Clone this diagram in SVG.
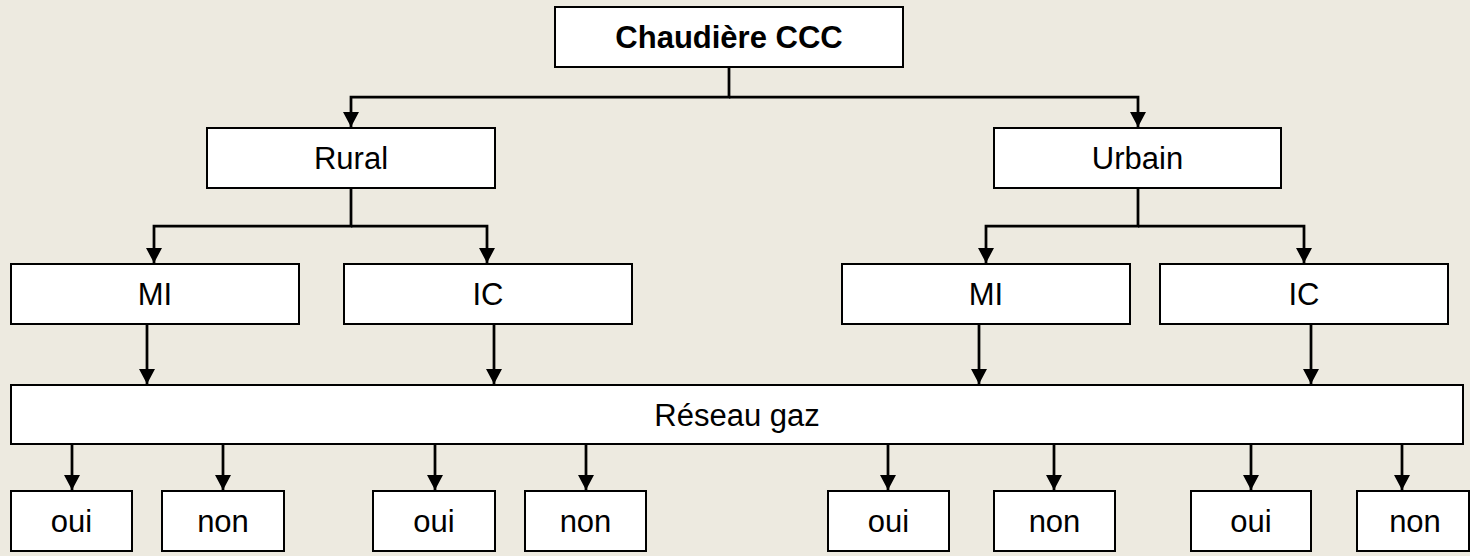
<svg xmlns="http://www.w3.org/2000/svg" width="1470" height="556" viewBox="0 0 1470 556">
  <style>
    .box { fill: #ffffff; stroke: #000000; stroke-width: 2; }
    .lbl { font-family: "Liberation Sans", Arial, sans-serif; font-size: 31px; fill: #000000; text-anchor: middle; }
    .bold { font-weight: bold; }
    .conn { fill: none; stroke: #000000; stroke-width: 2.75; stroke-linejoin: miter; }
  </style>
  <defs>
    <marker id="arrow" markerUnits="userSpaceOnUse" markerWidth="15" markerHeight="16" viewBox="0 0 15 16" refX="15" refY="8" orient="auto">
      <path d="M0,0 L15,8 L0,16 Z" fill="#000000"/>
    </marker>
  </defs>
  <rect x="0" y="0" width="1470" height="556" fill="#EDEAE0"/>

  <g id="connectors">
    <path class="conn" d="M729,67 V97 H351 V127" marker-end="url(#arrow)"/>
    <path class="conn" d="M729,97 H1138 V127" marker-end="url(#arrow)"/>
    <path class="conn" d="M351,188 V226 H154 V263" marker-end="url(#arrow)"/>
    <path class="conn" d="M351,226 H487 V263" marker-end="url(#arrow)"/>
    <path class="conn" d="M1138,188 V226 H986 V263" marker-end="url(#arrow)"/>
    <path class="conn" d="M1138,226 H1304 V263" marker-end="url(#arrow)"/>
    <path class="conn" d="M147,324 V384" marker-end="url(#arrow)"/>
    <path class="conn" d="M494,324 V384" marker-end="url(#arrow)"/>
    <path class="conn" d="M979,324 V384" marker-end="url(#arrow)"/>
    <path class="conn" d="M1311,324 V384" marker-end="url(#arrow)"/>
    <path class="conn" d="M72,444 V490" marker-end="url(#arrow)"/>
    <path class="conn" d="M223,444 V490" marker-end="url(#arrow)"/>
    <path class="conn" d="M435,444 V490" marker-end="url(#arrow)"/>
    <path class="conn" d="M586,444 V490" marker-end="url(#arrow)"/>
    <path class="conn" d="M888,444 V490" marker-end="url(#arrow)"/>
    <path class="conn" d="M1054,444 V490" marker-end="url(#arrow)"/>
    <path class="conn" d="M1251,444 V490" marker-end="url(#arrow)"/>
    <path class="conn" d="M1402,444 V490" marker-end="url(#arrow)"/>
  </g>

  <g id="chaudiere">
    <rect class="box" x="555" y="7" width="348" height="60"/>
    <text class="lbl bold" x="729" y="48">Chaudière CCC</text>
  </g>
  <g id="rural">
    <rect class="box" x="207" y="128" width="288" height="60"/>
    <text class="lbl" x="351" y="169">Rural</text>
  </g>
  <g id="urbain">
    <rect class="box" x="994" y="128" width="287" height="60"/>
    <text class="lbl" x="1137.5" y="169">Urbain</text>
  </g>
  <g id="rural-mi">
    <rect class="box" x="11" y="264" width="288" height="60"/>
    <text class="lbl" x="155" y="305">MI</text>
  </g>
  <g id="rural-ic">
    <rect class="box" x="344" y="264" width="288" height="60"/>
    <text class="lbl" x="488" y="305">IC</text>
  </g>
  <g id="urbain-mi">
    <rect class="box" x="842" y="264" width="288" height="60"/>
    <text class="lbl" x="986" y="305">MI</text>
  </g>
  <g id="urbain-ic">
    <rect class="box" x="1160" y="264" width="288" height="60"/>
    <text class="lbl" x="1304" y="305">IC</text>
  </g>
  <g id="reseau-gaz">
    <rect class="box" x="11" y="385" width="1452" height="59"/>
    <text class="lbl" x="737" y="426">Réseau gaz</text>
  </g>
  <g id="oui-1">
    <rect class="box" x="11" y="491" width="121" height="60"/>
    <text class="lbl" x="71.5" y="532">oui</text>
  </g>
  <g id="non-1">
    <rect class="box" x="162" y="491" width="122" height="60"/>
    <text class="lbl" x="223" y="532">non</text>
  </g>
  <g id="oui-2">
    <rect class="box" x="373" y="491" width="122" height="60"/>
    <text class="lbl" x="434" y="532">oui</text>
  </g>
  <g id="non-2">
    <rect class="box" x="525" y="491" width="121" height="60"/>
    <text class="lbl" x="585.5" y="532">non</text>
  </g>
  <g id="oui-3">
    <rect class="box" x="828" y="491" width="121" height="60"/>
    <text class="lbl" x="888.5" y="532">oui</text>
  </g>
  <g id="non-3">
    <rect class="box" x="994" y="491" width="121" height="60"/>
    <text class="lbl" x="1054.5" y="532">non</text>
  </g>
  <g id="oui-4">
    <rect class="box" x="1191" y="491" width="120" height="60"/>
    <text class="lbl" x="1251" y="532">oui</text>
  </g>
  <g id="non-4">
    <rect class="box" x="1357" y="491" width="112" height="60"/>
    <text class="lbl" x="1415" y="532">non</text>
  </g>
</svg>
